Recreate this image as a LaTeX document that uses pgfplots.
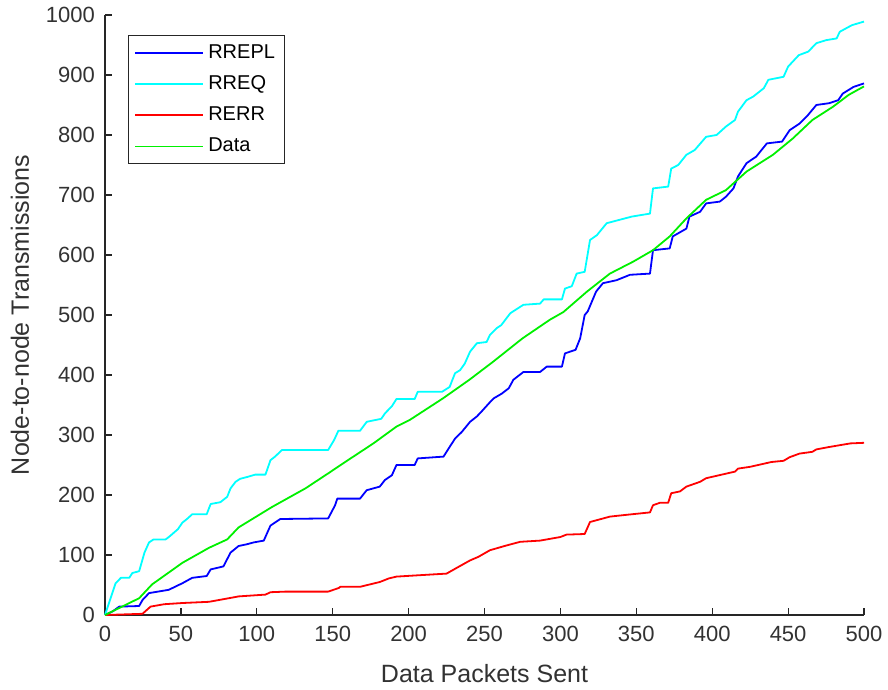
\documentclass[border=0pt]{standalone}
\usepackage{fontspec}
\setmainfont{Liberation Sans}
\usepackage{pgfplots}
\pgfplotsset{compat=1.18}

\definecolor{axgray}{RGB}{38,38,38}
\definecolor{txtgray}{RGB}{50,50,50}
\definecolor{mblue}{RGB}{0,0,255}
\definecolor{mcyan}{RGB}{0,255,255}
\definecolor{mred}{RGB}{255,0,0}
\definecolor{mgreen}{RGB}{0,240,0}

\begin{document}
\begin{tikzpicture}
\begin{axis}[
    scale only axis,
    width=379.5pt, height=300pt,
    xmin=0, xmax=500, ymin=0, ymax=1000,
    xtick={0,50,...,500},
    ytick={0,100,...,1000},
    axis x line*=bottom, axis y line*=left,
    axis line style={axgray, line width=0.6pt},
    tick style={axgray, line width=0.6pt},
    tick align=inside,
    major tick length=3.5pt,
    /pgf/number format/assume math mode=true,
    /pgf/number format/set thousands separator={},
    tick label style={font=\fontsize{11}{13}\selectfont, text=txtgray},
    xticklabel style={yshift=-2pt},
    yticklabel style={xshift=-1.5pt},
    xlabel={Data Packets Sent},
    ylabel={Node-to-node Transmissions},
    every axis x label/.style={at={(axis description cs:0.5,-0.097)}, anchor=center,
        font=\fontsize{12.5}{15}\selectfont, text=txtgray},
    every axis y label/.style={at={(axis description cs:-0.112,0.5)}, rotate=90, anchor=center,
        font=\fontsize{12.5}{15}\selectfont, text=txtgray},
    legend cell align=left,
    legend style={
        at={(axis description cs:0.0303,0.9667)}, anchor=north west,
        draw=axgray, fill=white, line width=0.5pt,
        font=\fontsize{10}{11}\selectfont,
        inner xsep=3pt, inner ysep=2.5pt, row sep=3.2pt,
    },
    legend image code/.code={\draw[#1] (0pt,0pt) -- (34pt,0pt);},
    every axis plot/.append style={line width=0.9pt, line join=round},
    clip=false,
]
% RREPL
\addplot[draw=mblue] coordinates {
(0,0) (5,6) (9.4,14) (22.5,15) (24.7,25) (29,36.5) (42,42) (51,53) (57.5,62)
(67,65) (69.6,76) (78,81) (82.7,104) (88,115) (93.6,118) (98,121) (104.6,124)
(109,149) (115.5,160) (147,161) (151.6,183) (153,194) (168,194) (172.4,208)
(181,214) (184.4,225) (189,233) (192,250) (204,250) (206,261) (223,264)
(227,280) (230.6,294) (235,305) (240.5,322) (245,331) (248,339) (253,353)
(256,361) (261.4,369) (266,378) (269,392) (275.6,405) (286.6,405) (291,414)
(301,414) (303,436) (310,442) (313,461) (316,500) (318,506) (323.5,539)
(328,553) (337,558) (345.8,567) (359,569) (361,608) (372,611) (374,631)
(383,644) (385,664) (392,672) (396,686) (405,689) (409,697) (414,711)
(417,731) (422.6,753) (429,764) (436,786) (446,789) (451,808) (457.5,819)
(463,833) (468.6,850) (477,853) (483,858) (486,869) (493,880) (500,886)
};
\addlegendentry{RREPL}
% RREQ
\addplot[draw=mcyan] coordinates {
(0,0) (7,53) (10.5,62) (16,62) (18,70) (22.5,73) (26,104) (29,121) (32,126)
(40,126) (43,132) (48,143) (51,154) (54,160) (57.5,168) (67,168) (69.6,185)
(76,188) (80.5,197) (82.7,211) (86,222) (89,227) (93.6,230) (99,234)
(105.7,234) (109,258) (112,264) (116.6,275) (147,275) (151,292) (153.7,307)
(168,307) (172.4,322) (182,327) (184.4,336) (189,348) (192,360) (204,360)
(206,372) (222,372) (227,380) (230.6,403) (233.9,408) (237,419) (240.5,439)
(245,453) (251.4,455) (253.6,467) (258,478) (261,483) (267,503) (275.6,517)
(286.6,519) (289,526) (301,526) (303,544) (307.5,548) (310.7,569) (316,572)
(319.5,625) (324,633) (330.5,653) (338,658) (347,664) (359,669) (361,711)
(371,714) (373,744) (377.6,750) (383,767) (388.5,775) (396,797) (402.9,800)
(409,814) (415,825) (417,839) (422.6,858) (427,864) (434,878) (437,892)
(447,897) (450,914) (457,933) (463.3,939) (468.6,953) (475,958) (482,961)
(484,972) (492,983) (500,989)
};
\addlegendentry{RREQ}
% RERR
\addplot[draw=mred] coordinates {
(0,0) (24.7,2) (30,14) (39,18) (51,20) (68.5,22) (81.6,28) (88,31) (105.7,34)
(109,38) (119,39) (147,39) (154,45) (155,47) (168,47) (181,55) (187,61)
(192,64) (205,66) (225,69) (232.7,80) (240.5,91) (246,97) (253.6,108)
(264.6,116) (273.5,122) (286.6,124) (300,130) (304,134) (316,135)
(319.5,155) (332.6,164) (343.6,167) (359,171) (361,183) (365.5,187)
(371,187) (373,203) (378.8,206) (383,214) (392,222) (396,228) (402.9,232)
(415,239) (417,244) (425,247) (439,255) (447,257) (451,263) (457.5,269)
(466,272) (468.6,276) (477,280) (484,283) (491,286) (500,287)
};
\addlegendentry{RERR}
% Data
\addplot[draw=mgreen] coordinates {
(0,0) (22.5,28) (31,51) (51,87) (68.5,112) (80.5,126) (88,146) (110,180)
(132,211) (147,236) (160,258) (176.8,286) (192,314) (200.7,325) (222.6,361)
(240,392) (255.6,422) (275,461) (293,492) (302,505) (317.5,539) (332.6,569)
(348,589) (361,608) (372,631) (383,661) (396,692) (409,708) (422.6,739)
(440,767) (453,794) (466,825) (479.5,847) (490,867) (500,881)
};
\addlegendentry{Data}
\end{axis}
\pgfresetboundingbox
\path ([shift={(-52.5pt,-37pt)}]current axis.south west)
  rectangle ([shift={(12pt,7.5pt)}]current axis.north east);
\end{tikzpicture}
\end{document}
